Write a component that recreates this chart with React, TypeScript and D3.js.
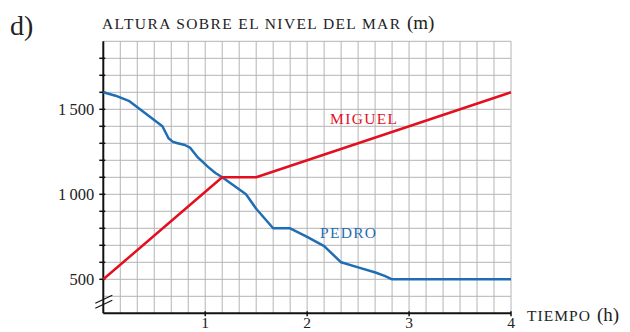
import React from "react";
import * as d3 from "d3";

// Time axis (hours) and altitude axis (metres)
const timeTicks = [1, 2, 3, 4];
const altitudeTickLabels = [500, 1000, 1500];

// Miguel: climbs, rests, climbs again
const miguelTime = [0, 7 / 6, 1.5, 4];
const miguelAltitude = [500, 1100, 1100, 1600];

// Pedro: descends from the summit
const pedroTime = [0, 0.12, 0.25, 0.58, 0.61, 0.64, 0.68, 0.72, 0.8, 0.85, 0.92, 1.03, 1.1, 7 / 6, 1.4, 1.5, 5 / 3, 11 / 6, 2.0, 13 / 6, 7 / 3, 2.5, 2.67, 2.76, 17 / 6, 4];
const pedroAltitude = [1600, 1580, 1550, 1400, 1365, 1330, 1310, 1302, 1290, 1275, 1222, 1160, 1125, 1100, 1000, 915, 800, 800, 750, 695, 600, 570, 540, 520, 500, 500];

const W = 630;
const H = 332;

const x = d3.scaleLinear().domain([0, 4]).range([103.3, 511]);
const y = d3.scaleLinear().domain([300, 1900]).range([313.3, 41.3]);

const fmt = d3
  .formatLocale({ decimal: ",", thousands: "\u2009", grouping: [3], currency: ["", "€"] })
  .format(",d");

const serif = "'Liberation Serif', 'DejaVu Serif', serif";
const RED = "#e30f1f";
const BLUE = "#1f6db5";
const GRID = "#b4b4b4";
const INK = "#222";

export default function App() {
  const gridCols = d3.range(1, 25).map((i) => i / 6);
  const gridRows = d3.range(400, 1901, 100);
  const yTicks = d3.range(500, 1900, 100);

  const miguelLine = d3
    .line<number>()
    .x((_, i) => x(miguelTime[i]))
    .y((d) => y(d))(miguelAltitude) as string;

  const pedroLine = d3
    .line<number>()
    .x((_, i) => x(pedroTime[i]))
    .y((d) => y(d))(pedroAltitude) as string;

  const x0 = x(0);
  const yBase = y(300);

  return (
    <svg
      width={W}
      height={H}
      style={{ position: "absolute", left: 0, top: 0, background: "#fff" }}
      fontFamily={serif}
    >
      {/* grid */}
      <g stroke={GRID} strokeWidth={1}>
        {gridCols.map((t) => (
          <line key={"c" + t} x1={x(t)} x2={x(t)} y1={y(300)} y2={y(1900)} />
        ))}
        {gridRows.map((a) => (
          <line key={"r" + a} x1={x(0)} x2={x(4)} y1={y(a)} y2={y(a)} />
        ))}
      </g>

      {/* axes */}
      <g stroke="#111" fill="none">
        <line x1={x0} x2={x0} y1={yBase} y2={y(1900)} strokeWidth={2} />
        <line x1={x0} x2={x(4)} y1={yBase} y2={yBase} strokeWidth={2} />
        {yTicks.map((a) => (
          <line key={"yt" + a} x1={x0 - 4} x2={x0 + 2} y1={y(a)} y2={y(a)} strokeWidth={1.5} />
        ))}
        {timeTicks.map((t) => (
          <line key={"xt" + t} x1={x(t)} x2={x(t)} y1={yBase - 2} y2={yBase + 3} strokeWidth={1.5} />
        ))}
        {/* axis break */}
        <line x1={x0 - 8} y1={y(300) - 10} x2={x0 + 9} y2={y(300) - 18} strokeWidth={1.2} />
        <line x1={x0 - 8} y1={y(300) - 5} x2={x0 + 9} y2={y(300) - 13} strokeWidth={1.2} />
      </g>

      {/* tick labels */}
      <g fill={INK} fontSize={16.5}>
        {altitudeTickLabels.map((a) => (
          <text key={"yl" + a} x={x0 - 9} y={y(a) + 6} textAnchor="end">
            {fmt(a)}
          </text>
        ))}
        {timeTicks.map((t) => (
          <text key={"xl" + t} x={x(t)} y={328} textAnchor="middle" fontSize={15.5}>
            {t}
          </text>
        ))}
      </g>

      {/* series */}
      <path d={pedroLine} fill="none" stroke={BLUE} strokeWidth={2.5} strokeLinejoin="round" />
      <path d={miguelLine} fill="none" stroke={RED} strokeWidth={2.5} strokeLinejoin="round" />

      {/* series labels */}
      <text x={330} y={124} fill={RED} fontSize={15.5} letterSpacing={1} textLength={68} lengthAdjust="spacing">
        MIGUEL
      </text>
      <text x={320} y={237.5} fill={BLUE} fontSize={15.5} letterSpacing={1} textLength={57} lengthAdjust="spacing">
        PEDRO
      </text>

      {/* titles */}
      <text x={10} y={35} fontSize={28} fill={INK}>
        d)
      </text>
      <text x={102} y={29} fontSize={15.5} fill={INK} textLength={298} lengthAdjust="spacing">
        ALTURA SOBRE EL NIVEL DEL MAR
      </text>
      <text x={407} y={29} fontSize={19} fill={INK}>
        (m)
      </text>
      <text x={527} y={321} fontSize={15.5} fill={INK} textLength={63} lengthAdjust="spacing">
        TIEMPO
      </text>
      <text x={597} y={321} fontSize={19} fill={INK}>
        (h)
      </text>
    </svg>
  );
}
